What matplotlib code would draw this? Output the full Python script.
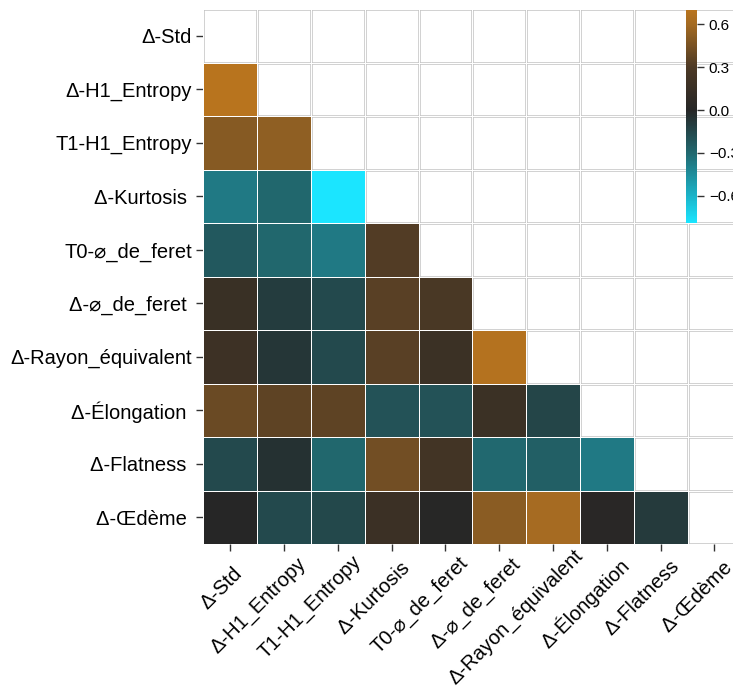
import numpy as np
import matplotlib
matplotlib.use("Agg")
import matplotlib.pyplot as plt
from matplotlib.colors import LinearSegmentedColormap, Normalize

labels = ["Δ-Std", "Δ-H1_Entropy", "T1-H1_Entropy", "Δ-Kurtosis ", "T0-⌀_de_feret",
          "Δ-⌀_de_feret ", "Δ-Rayon_équivalent", "Δ-Élongation ", "Δ-Flatness ", "Δ-Œdème "]

# lower triangle of the correlation matrix, row by row
rows = [
    [],
    [0.70],
    [0.50, 0.53],
    [-0.37, -0.29, -0.79],
    [-0.23, -0.29, -0.37, 0.32],
    [0.15, -0.10, -0.16, 0.34, 0.28],
    [0.18, -0.07, -0.16, 0.34, 0.17, 0.68],
    [0.40, 0.36, 0.36, -0.20, -0.20, 0.17, -0.14],
    [-0.16, -0.05, -0.29, 0.43, 0.22, -0.30, -0.26, -0.37],
    [0.00, -0.16, -0.15, 0.16, 0.01, 0.51, 0.61, 0.02, -0.09],
]

cbar_ticks = [-0.6, -0.3, 0.0, 0.3, 0.6]

n = len(labels)
corr = np.eye(n)
for i, r in enumerate(rows):
    for j, v in enumerate(r):
        corr[i, j] = v
        corr[j, i] = v
mask = np.triu(np.ones((n, n), dtype=bool))

vmin, vmax = -0.79, 0.70
stops = [(-0.79, "#1be5ff"), (-0.6, "#1bb3c8"), (-0.3, "#21686f"), (0.0, "#262626"),
         (0.3, "#4c3925"), (0.6, "#a36a22"), (0.70, "#b8741e")]
cmap = LinearSegmentedColormap.from_list(
    "cb", [((v - vmin) / (vmax - vmin), c) for v, c in stops])
norm = Normalize(vmin=vmin, vmax=vmax)

fam = ["Liberation Sans", "DejaVu Sans"]
plt.rcParams["font.family"] = fam
fs = 14.5

fig = plt.figure(figsize=(7.33, 6.86), dpi=100)
# the heatmap runs past the right edge of the picture, as in the original
ax = fig.add_axes([203.3 / 733, 1 - 544 / 686, 538 / 733, 535 / 686])

data = np.ma.masked_where(mask, corr)
mesh = ax.pcolormesh(np.arange(n + 1), np.arange(n + 1), data, cmap=cmap, norm=norm,
                     edgecolors="white", linewidth=0.6, zorder=2)
ax.set_xlim(0, n)
ax.set_ylim(n, 0)

for k in range(n + 1):
    ax.axvline(k, color="#c4c4c4", linewidth=1.8, zorder=0)
    ax.axhline(k, color="#c4c4c4", linewidth=1.8, zorder=0)
for s in ax.spines.values():
    s.set_visible(False)

ax.set_xticks(np.arange(n) + 0.5)
ax.set_yticks(np.arange(n) + 0.5)
ax.set_xticklabels([])
ax.set_yticklabels(labels, fontsize=fs)
ax.tick_params(which="major", length=5, width=1, color="#333333", pad=3)

# rotated x labels, nudged up along their direction like the original
renderer = fig.canvas.get_renderer()
for i, lab in enumerate(labels):
    t = fig.text(0, 0, lab.rstrip(), fontsize=fs)
    L = t.get_window_extent(renderer).width
    t.set_text(lab)
    extra = t.get_window_extent(renderer).width - L
    t.remove()
    along = 0.19 * L - 15 + extra
    perp = 9
    dx = (along + perp) / np.sqrt(2) * 0.72
    dy = (along - perp) / np.sqrt(2) * 0.72
    ax.annotate(lab, xy=(i + 0.5, 0), xycoords=("data", "axes fraction"),
                xytext=(dx, dy - 7), textcoords="offset points",
                rotation=45, rotation_mode="anchor", ha="right", va="top",
                fontsize=fs, annotation_clip=False)

cax = fig.add_axes([686 / 733, 1 - 223 / 686, 11 / 733, 213 / 686])
cb = fig.colorbar(mesh, cax=cax, ticks=cbar_ticks)
cb.outline.set_visible(False)
cax.patch.set_visible(False)
cax.tick_params(labelsize=11, length=5, width=1, color="#333333")

fig.savefig("out.png", dpi=100)
